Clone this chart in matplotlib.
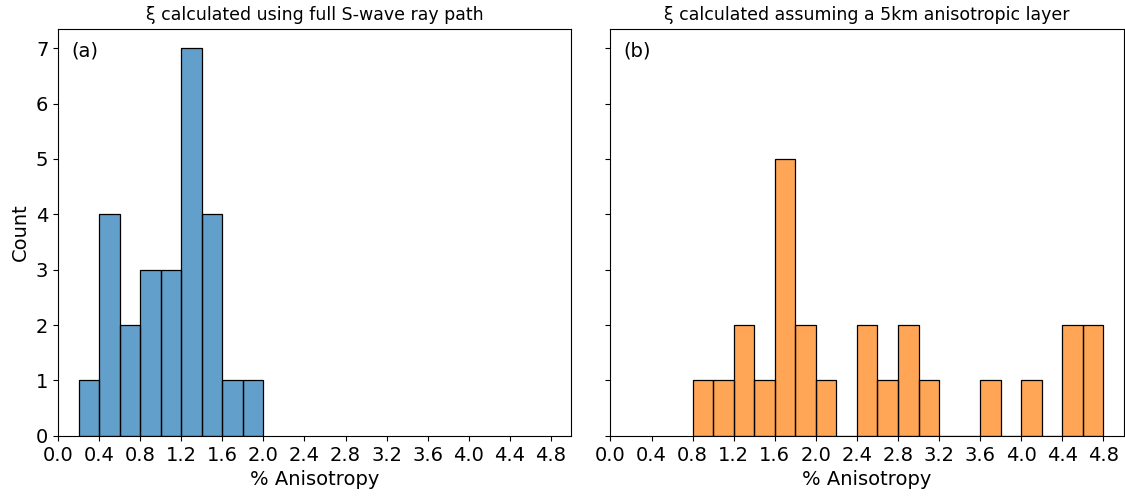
import numpy as np
import matplotlib
matplotlib.use("Agg")
import matplotlib.pyplot as plt

# bin edges (% anisotropy) and counts per bin
edges_a = [0.2, 0.4, 0.6, 0.8, 1.0, 1.2, 1.4, 1.6, 1.8, 2.0]
counts_a = [1, 4, 2, 3, 3, 7, 4, 1, 1]

edges_b = [0.8, 1.0, 1.2, 1.4, 1.6, 1.8, 2.0, 2.2, 2.4, 2.6, 2.8, 3.0, 3.2,
           3.4, 3.6, 3.8, 4.0, 4.2, 4.4, 4.6, 4.8]
counts_b = [1, 1, 2, 1, 5, 2, 1, 0, 2, 1, 2, 1, 0, 0, 1, 0, 1, 0, 2, 2]

titles = ["ξ calculated using full S-wave ray path",
          "ξ calculated assuming a 5km anisotropic layer"]
panel_labels = ["(a)", "(b)"]
xticks = np.round(np.arange(0, 4.81, 0.4), 1)


def main():
    fig, axes = plt.subplots(1, 2, figsize=(11.25, 4.97), dpi=100, sharey=True)
    fig.subplots_adjust(left=0.0516, right=0.999, bottom=0.123, top=0.942, wspace=0.076)

    data = [(edges_a, counts_a, "C0"), (edges_b, counts_b, "C1")]
    for ax, (edges, counts, col), title, lab in zip(axes, data, titles, panel_labels):
        edges = np.array(edges)
        centres = (edges[:-1] + edges[1:]) / 2
        ax.hist(centres, bins=edges, weights=counts, color=col, alpha=0.7)
        # outlines at full opacity
        ax.hist(centres, bins=edges, weights=counts, facecolor="none",
                edgecolor="black", linewidth=0.9)
        ax.set_xlim(0, 5.0)
        ax.set_xticks(xticks)
        ax.set_xticklabels([f"{t:.1f}" for t in xticks])
        ax.set_xlabel("% Anisotropy", fontsize=14)
        ax.set_title(title, fontsize=12.5)
        ax.tick_params(labelsize=14)
        ax.text(0.025, 0.968, lab, transform=ax.transAxes, fontsize=14,
                va="top", ha="left")

    axes[0].set_ylabel("Count", fontsize=14)
    axes[0].set_yticks(range(0, 8))

    fig.savefig("out.png", dpi=100)


if __name__ == "__main__":
    main()
